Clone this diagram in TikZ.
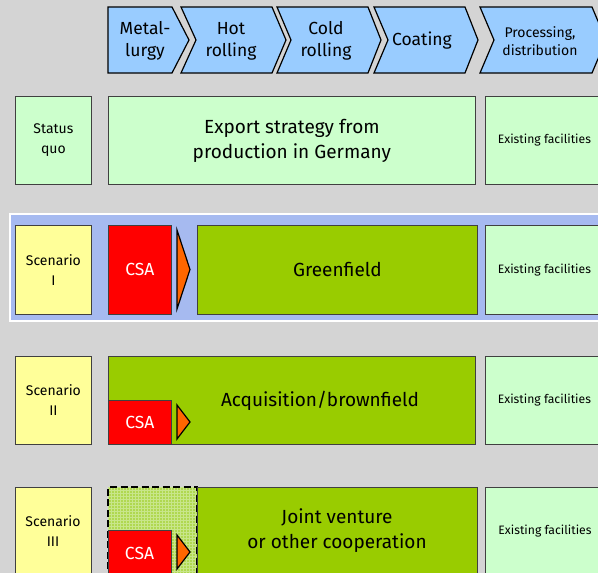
\documentclass[tikz,border=0pt]{standalone}
\usepackage{fontspec}
\setmainfont{Fira Sans}
\definecolor{bgc}{HTML}{D4D4D4}
\definecolor{chevc}{HTML}{99CCFF}
\definecolor{lgreen}{HTML}{CCFFCC}
\definecolor{lyellow}{HTML}{FFFF99}
\definecolor{bandc}{HTML}{A6BAF0}
\definecolor{csared}{HTML}{FF0000}
\definecolor{orng}{HTML}{FF6600}
\definecolor{grn}{HTML}{99CC00}
\definecolor{grnlight}{HTML}{B0D850}
\definecolor{gridc}{HTML}{C8E68A}
\definecolor{bordc}{HTML}{404040}
\begin{document}
\begin{tikzpicture}[x=1pt,y=-1pt,
  box/.style={draw=bordc, line width=0.8pt, anchor=north west, inner sep=0pt, align=center, text=black},
  chev/.style={draw=black, line width=1.2pt, fill=chevc, line join=miter},
  chevtext/.style={align=center, font=\fontsize{17.5}{22}\selectfont},
  lbl/.style={box, fill=lyellow, minimum width=76pt, font=\fontsize{14}{20}\selectfont},
  exist/.style={box, fill=lgreen, minimum width=118pt, font=\fontsize{12.2}{14}\selectfont},
  big/.style={font=\fontsize{19}{25}\selectfont},
  csa/.style={box, fill=csared, text=white, minimum width=63pt, font=\fontsize{17.5}{20}\selectfont},
  tri/.style={draw=black, line width=1.2pt, fill=orng, line join=miter}]
\useasboundingbox (0,0) rectangle (598,573);
\clip (0,0) rectangle (598,573);
\fill[bgc] (0,0) rectangle (598,573);

% chevrons
\draw[chev] (108,7) -- (172,7) -- (189,40) -- (172,73) -- (108,73) -- cycle;
\draw[chev] (181,7) -- (272,7) -- (286,40) -- (272,73) -- (181,73) -- (196,40) -- cycle;
\draw[chev] (277,7) -- (368,7) -- (381,40) -- (368,73) -- (277,73) -- (291,40) -- cycle;
\draw[chev] (374,7) -- (465,7) -- (478,40) -- (465,73) -- (374,73) -- (388,40) -- cycle;
\draw[chev] (480,7) -- (592,7) -- (606,40) -- (592,73) -- (480,73) -- (494,40) -- cycle;
\node[chevtext] (c1) at (145,41) {Metal-\\lurgy};
\node[chevtext] (c2) at (231,41) {Hot\\rolling};
\node[chevtext] (c3) at (326,41) {Cold\\rolling};
\node[chevtext] (c4) at (422,41) {Coating};
\node[chevtext, font=\fontsize{14}{18}\selectfont] (c5) at (540,41) {Processing,\\distribution};

% status quo
\node[box, fill=lgreen, minimum width=76pt, minimum height=88pt, font=\fontsize{14}{20}\selectfont] (sq) at (15,96) {Status\\quo};
\node[box, fill=lgreen, minimum width=367pt, minimum height=88pt, big] (exp) at (108,96) {Export strategy from\\production in Germany};
\node[exist, minimum height=88pt] (e0) at (485,96) {Existing facilities};

% scenario I
\draw[white, line width=2pt, fill=bandc] (10,214) rectangle (602,321);
\node[lbl, minimum height=89pt] (s1) at (15,225) {Scenario\\I};
\node[csa, minimum height=89pt] (csa1) at (108,225) {CSA};
\draw[tri] (177,230) -- (190,269.5) -- (177,309) -- cycle;
\node[box, fill=grn, minimum width=280pt, minimum height=89pt, big] (gf) at (197,225) {Greenfield};
\node[exist, minimum height=89pt] (e1) at (485,225) {Existing facilities};

% scenario II
\node[lbl, minimum height=88pt] (s2) at (15,356) {Scenario\\II};
\node[box, fill=grn, minimum width=367pt, minimum height=88pt] (acq) at (108,356) {};
\node[big] (acqt) at (320,401) {Acquisition/brownfield};
\node[csa, minimum height=44pt] (csa2) at (108,400) {CSA};
\draw[tri] (177,405) -- (190,422) -- (177,439) -- cycle;
\node[exist, minimum height=88pt] (e2) at (485,356) {Existing facilities};

% scenario III
\node[lbl, minimum height=100pt] (s3) at (15,487) {};
\node[font=\fontsize{14}{20}\selectfont, align=center] (s3t) at (53,531) {Scenario\\III};
\fill[grnlight] (108,487) rectangle (197,590);
\begin{scope}
\clip (108,487) rectangle (197,590);
\foreach \i in {0,3,...,90} {\draw[gridc, line width=0.5pt] (108+\i,487) -- (108+\i,590);}
\foreach \i in {0,3,...,105} {\draw[gridc, line width=0.5pt] (108,487+\i) -- (197,487+\i);}
\end{scope}
\draw[black, line width=1.4pt, dash pattern=on 7pt off 3.5pt] (108,590) -- (108,487) -- (197,487) -- (197,590);
\node[box, fill=grn, minimum width=280pt, minimum height=100pt] (jv) at (197,487) {};
\node[big, align=center] (jvt) at (337,531) {Joint venture\\or other cooperation};
\node[csa, minimum height=50pt] (csa3) at (108,530) {};
\node[text=white, font=\fontsize{17.5}{20}\selectfont] (csa3t) at (139.5,553) {CSA};
\draw[tri] (177,535) -- (190,552) -- (177,569) -- cycle;
\node[exist, minimum height=100pt] (e3) at (485,487) {};
\node[font=\fontsize{12.2}{14}\selectfont] (e3t) at (545,531) {Existing facilities};
\end{tikzpicture}
\end{document}
